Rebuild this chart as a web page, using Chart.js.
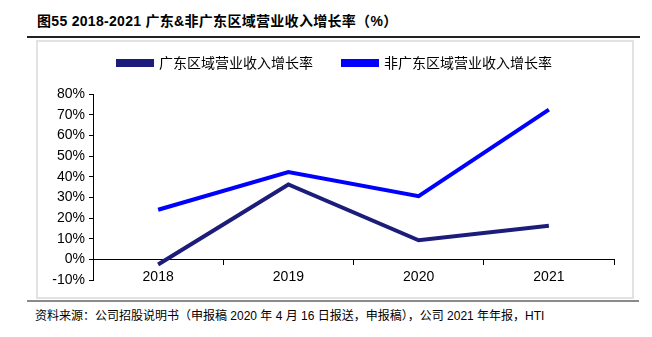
<!DOCTYPE html>
<html>
<head>
<meta charset="utf-8">
<script src="https://cdn.jsdelivr.net/npm/chart.js@4.4.0/dist/chart.umd.min.js"></script>
<style>
  body { margin: 0; width: 652px; height: 337px; background: #fff; position: relative; overflow: hidden; font-family: "Liberation Sans", "Noto Sans CJK SC", sans-serif; }
  .title { position: absolute; left: 37px; top: 10px; font-size: 14px; font-weight: bold; color: #000; white-space: nowrap; letter-spacing: 0.3px; }
  .rule-top { position: absolute; left: 27px; top: 36px; width: 613px; height: 2px; background: #222; }
  .frame { position: absolute; left: 36px; top: 40px; width: 594px; height: 255px; border: 2px solid #e2e2e2; }
  .rule-bottom { position: absolute; left: 27px; top: 300px; width: 612px; height: 2px; background: #8a8a8a; }
  .source { position: absolute; left: 35px; top: 306px; font-size: 12px; color: #000; white-space: nowrap; font-family: "Liberation Sans", "Noto Sans CJK SC", sans-serif; }
  #wrap { position: absolute; left: 36px; top: 40px; width: 596px; height: 257px; }
</style>
</head>
<body>
<div class="title">图55 2018-2021 广东&amp;非广东区域营业收入增长率（%）</div>
<div class="rule-top"></div>
<div class="frame"></div>
<div id="wrap"><canvas id="c"></canvas></div>
<div class="rule-bottom"></div>
<div class="source">资料来源：公司招股说明书（申报稿 2020 年 4 月 16 日报送，申报稿），公司 2021 年年报，HTI</div>
<script>
// 广东 vs 非广东 区域营业收入增长率 (%)
var years = ['2018', '2019', '2020', '2021'];
var gdGrowth = [-2.5, 36.2, 9.2, 16.2];
var nonGdGrowth = [24.0, 42.2, 30.6, 72.4];
var yTicks = [-10, 0, 10, 20, 30, 40, 50, 60, 70, 80];

var axisFont = { family: '"Liberation Sans", Arial, sans-serif', size: 14 };

// legend padding is wide (for the gap between items): fix its height, nudge it right
var legendGap = {
  id: 'legendGap',
  beforeInit: function(chart) {
    var lg = chart.legend;
    if (!lg) return;
    var fit = lg.fit;
    lg.fit = function() { fit.call(this); this.height += 16; };
    var draw = lg.draw;
    lg.draw = function() {
      var ctx = this.ctx;
      ctx.save();
      ctx.translate(10, 2);
      draw.apply(this, arguments);
      ctx.restore();
    };
  }
};

new Chart(document.getElementById('c'), {
  type: 'line',
  data: {
    labels: years,
    datasets: [{
      label: '广东区域营业收入增长率',
      data: gdGrowth,
      borderColor: '#1c1c7a', backgroundColor: '#1c1c7a',
      borderWidth: 4, tension: 0, pointRadius: 0, fill: false
    }, {
      label: '非广东区域营业收入增长率',
      data: nonGdGrowth,
      borderColor: '#0000ff', backgroundColor: '#0000ff',
      borderWidth: 4, tension: 0, pointRadius: 0, fill: false
    }]
  },
  options: {
    responsive: true, maintainAspectRatio: false, animation: false,
    layout: { padding: { left: 0, right: 18, top: -16, bottom: 17 } },
    plugins: {
      tooltip: { enabled: false },
      legend: {
        display: true, position: 'top',
        labels: {
          color: '#000', boxWidth: 34, boxHeight: 4, padding: 30,
          font: { family: '"Noto Sans CJK SC", sans-serif', size: 14 }
        }
      }
    },
    scales: {
      x: {
        position: { y: 0 },
        offset: true,
        border: { display: true, color: '#000', width: 1 },
        grid: { display: true, drawOnChartArea: false, drawTicks: true, tickLength: 5, color: '#000', offset: true },
        ticks: { color: '#000', font: axisFont, padding: 4 }
      },
      y: {
        min: -10, max: 80,
        afterBuildTicks: function(s) { s.ticks = yTicks.map(function(v) { return { value: v }; }); },
        afterFit: function(s) { s.width = 57; },
        border: { display: true, color: '#000', width: 1 },
        grid: { display: true, drawOnChartArea: false, drawTicks: true, tickLength: 4, color: '#000' },
        ticks: { color: '#000', font: axisFont, padding: 4, autoSkip: false, callback: function(v) { return v + '%'; } }
      }
    }
  },
  plugins: [legendGap]
});
</script>
</body>
</html>
